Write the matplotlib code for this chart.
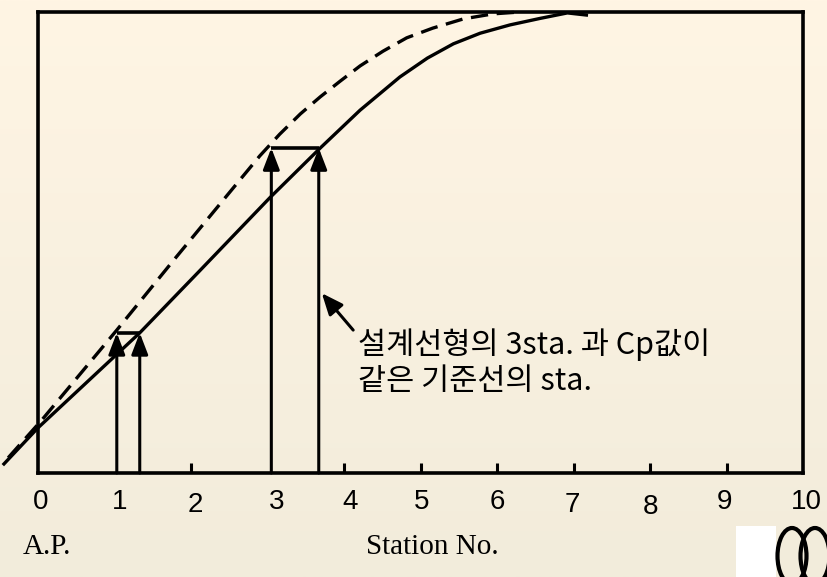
import numpy as np
import matplotlib
matplotlib.use("Agg")
import matplotlib.pyplot as plt
from matplotlib.patches import Rectangle, Ellipse

# curve data (station no., fraction of max)
solid_x = [-0.46, 0.0, 1.33, 2.11, 3.03, 3.69, 4.21, 4.73, 5.09, 5.43, 5.78,
           6.17, 6.56, 6.92, 7.19]
solid_y = [0.017, 0.098, 0.304, 0.438, 0.597, 0.705, 0.787, 0.859, 0.900, 0.931,
           0.954, 0.972, 0.986, 0.998, 0.993]
dash_x = [-0.39, 0.05, 1.03, 1.77, 2.64, 2.90, 3.16, 3.43, 3.69, 3.95, 4.21,
          4.51, 4.82, 5.16, 5.56, 5.95, 6.30]
dash_y = [0.033, 0.115, 0.310, 0.461, 0.636, 0.688, 0.735, 0.779, 0.816, 0.850,
          0.883, 0.915, 0.944, 0.965, 0.985, 0.996, 1.0]

# arrows: pairs of stations with same area value
pairs = [(1.03, 1.33, 0.304), (3.05, 3.67, 0.705)]

tick_pos = [2, 4, 5, 6, 7, 8, 9]
label_text = [str(i) for i in range(11)]
label_x = [0.03, 1.07, 2.05, 3.12, 4.08, 5.02, 6.01, 6.98, 8.0, 8.98, 10.05]
label_drop = [0, 0, 3, 0, 0, 0, 0, 3, 5, 0, 0]  # px lower than base line

note = "설계선형의 3sta. 과 Cp값이\n같은 기준선의 sta."

W, H = 827, 577
fig = plt.figure(figsize=(W / 100, H / 100), dpi=100)

# gradient background
bg = fig.add_axes([0, 0, 1, 1], zorder=-1)
top = np.array([255, 245, 228]) / 255
bot = np.array([242, 236, 219]) / 255
t = np.linspace(0, 1, 200)[:, None]
grad = (top * (1 - t) + bot * t)[:, None, :]
bg.imshow(grad, aspect="auto", extent=[0, 1, 0, 1])
bg.axis("off")

ax = fig.add_axes([38 / W, 1 - 473 / H, 765 / W, 461 / H])
ax.set_facecolor("none")
ax.set_xlim(0, 10)
ax.set_ylim(0, 1)
for s in ax.spines.values():
    s.set_linewidth(2.6)

ax.plot(solid_x, solid_y, color="black", lw=2.4, clip_on=False,
        solid_joinstyle="round", solid_capstyle="butt")
ax.plot(dash_x, dash_y, color="black", lw=2.4, clip_on=False,
        linestyle=(0, (5.2, 2.6)), dash_joinstyle="round")

for x1, x2, yh in pairs:
    for xx in (x1, x2):
        ax.annotate("", xy=(xx, yh), xytext=(xx, 0),
                    arrowprops=dict(arrowstyle="-|>,head_length=1.3,head_width=0.5",
                                    color="black", lw=2.2, shrinkA=0, shrinkB=0,
                                    mutation_scale=10))
    ax.plot([x1, x2], [yh, yh], color="black", lw=2.6, solid_capstyle="butt")

ax.set_xticks(tick_pos)
ax.set_yticks([])
ax.tick_params(axis="x", direction="in", length=7, width=2.2, labelbottom=False)

for lx, lt, dy in zip(label_x, label_text, label_drop):
    ax.text(lx, (473 - 502 - dy) / 461, lt, transform=ax.get_xaxis_transform(),
            ha="center", va="center", fontsize=20, family="Liberation Sans")

ax.annotate("", xy=(3.71, 0.39), xytext=(4.12, 0.31),
            arrowprops=dict(arrowstyle="-|>,head_length=1.3,head_width=0.55",
                            color="black", lw=2.2, shrinkA=0, shrinkB=0,
                            mutation_scale=10))
ax.text(4.18, 0.314, note, ha="left", va="top", fontsize=22, linespacing=1.2,
        family=["Noto Sans CJK KR", "DejaVu Sans"])

fig.text(47 / W, 1 - 547 / H, "A.P.", ha="center", va="center",
         fontsize=21, family="Liberation Serif")
fig.text(432 / W, 1 - 547 / H, "Station No.", ha="center", va="center",
         fontsize=21, family="Liberation Serif")

# corner logo
fig.patches.append(Rectangle((736 / W, 0), 40 / W, 51 / H, transform=fig.transFigure,
                             facecolor="white", edgecolor="none"))
for cx in (792, 815):
    fig.patches.append(Ellipse((cx / W, 1 - 556 / H), 29 / W, 56 / H,
                               transform=fig.transFigure, facecolor="none",
                               edgecolor="black", lw=3.0))

fig.savefig("out.png", dpi=100)
